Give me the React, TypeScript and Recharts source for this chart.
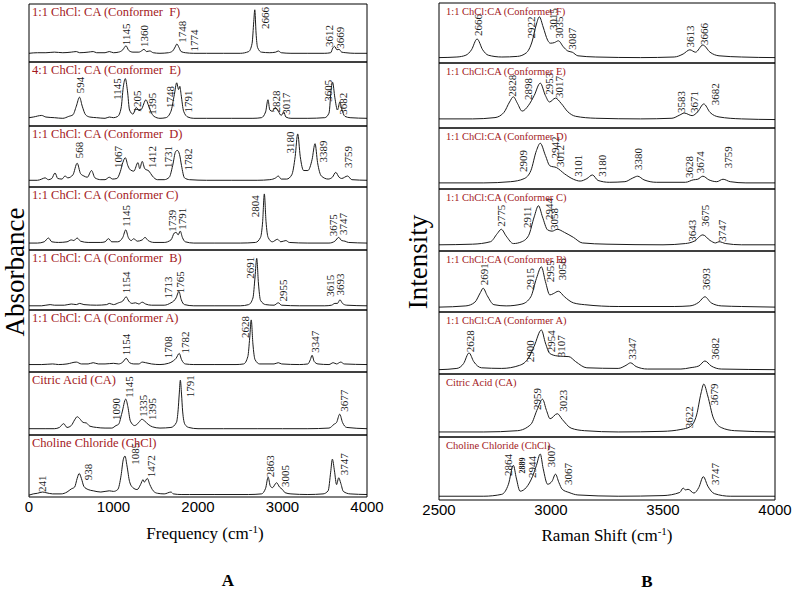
import React from "react";
import { LineChart, Line, XAxis, YAxis, ReferenceDot } from "recharts";

type Pt = [number, number];
type Peak = [string, number, number];

// ---------- Panel A : IR (Frequency) ----------
const A_TITLES = [
  "1:1 ChCl: CA (Conformer  F)",
  "4:1 ChCl: CA (Conformer  E)",
  "1:1 ChCl: CA (Conformer  D)",
  "1:1 ChCl: CA (Conformer C)",
  "1:1 ChCl: CA (Conformer  B)",
  "1:1 ChCl: CA (Conformer A)",
  "Citric Acid (CA)",
  "Choline Chloride (ChCl)",
];

const A_F: Pt[] = [[0,0.15],[100,0.16],[200,0.16],[300,0.17],[400,0.16],[500,0.17],[560,0.18],[600,0.16],[700,0.17],[760,0.18],[800,0.16],[900,0.16],[950,0.18],[1000,0.16],[1060,0.17],[1110,0.21],[1148,0.28],[1180,0.2],[1230,0.17],[1300,0.17],[1340,0.2],[1361,0.22],[1390,0.18],[1430,0.19],[1470,0.16],[1550,0.15],[1650,0.16],[1700,0.19],[1730,0.26],[1750,0.31],[1775,0.25],[1800,0.18],[1850,0.16],[1950,0.15],[2100,0.15],[2300,0.15],[2500,0.15],[2600,0.18],[2640,0.32],[2660,0.7],[2672,0.9],[2687,0.5],[2705,0.25],[2750,0.17],[2850,0.16],[2920,0.17],[2950,0.19],[2985,0.16],[3100,0.15],[3300,0.15],[3500,0.15],[3570,0.16],[3595,0.24],[3615,0.27],[3645,0.21],[3669,0.22],[3700,0.17],[3750,0.16],[3850,0.15],[4000,0.15]];
const A_E: Pt[] = [[0,0.13],[50,0.14],[150,0.165],[200,0.14],[300,0.13],[400,0.12],[470,0.15],[520,0.175],[560,0.31],[598,0.45],[630,0.31],[670,0.175],[720,0.14],[800,0.13],[900,0.12],[950,0.14],[1000,0.13],[1050,0.15],[1090,0.28],[1115,0.6],[1140,0.74],[1165,0.55],[1190,0.25],[1230,0.186],[1270,0.29],[1300,0.24],[1330,0.26],[1385,0.41],[1410,0.335],[1440,0.23],[1480,0.15],[1550,0.12],[1620,0.13],[1680,0.23],[1720,0.49],[1748,0.675],[1770,0.57],[1785,0.62],[1800,0.49],[1830,0.23],[1880,0.14],[1950,0.12],[2100,0.12],[2400,0.12],[2650,0.12],[2750,0.13],[2800,0.22],[2828,0.41],[2850,0.25],[2880,0.23],[2915,0.29],[2950,0.23],[2985,0.165],[3015,0.22],[3040,0.14],[3100,0.12],[3300,0.12],[3500,0.13],[3550,0.2],[3578,0.6],[3592,0.685],[3620,0.44],[3650,0.25],[3680,0.377],[3700,0.27],[3740,0.15],[3800,0.13],[4000,0.12]];
const A_D: Pt[] = [[0,0.11],[100,0.11],[150,0.13],[190,0.15],[230,0.12],[270,0.14],[308,0.23],[340,0.14],[390,0.13],[426,0.18],[460,0.15],[520,0.2],[570,0.39],[610,0.22],[650,0.18],[690,0.16],[740,0.27],[780,0.15],[850,0.12],[900,0.12],[950,0.16],[990,0.13],[1040,0.14],[1080,0.25],[1110,0.4],[1140,0.48],[1170,0.35],[1200,0.28],[1240,0.26],[1290,0.4],[1310,0.3],[1340,0.42],[1370,0.3],[1420,0.26],[1460,0.18],[1520,0.12],[1600,0.12],[1660,0.16],[1700,0.35],[1735,0.58],[1755,0.6],[1782,0.53],[1805,0.35],[1840,0.15],[1900,0.12],[2100,0.11],[2400,0.11],[2700,0.11],[2850,0.12],[2920,0.15],[2950,0.18],[2985,0.13],[3050,0.13],[3110,0.2],[3150,0.5],[3180,0.87],[3210,0.5],[3250,0.27],[3300,0.27],[3350,0.45],[3385,0.71],[3415,0.4],[3460,0.18],[3540,0.13],[3590,0.16],[3630,0.24],[3670,0.16],[3700,0.14],[3770,0.18],[3820,0.12],[4000,0.11]];
const A_C: Pt[] = [[0,0.11],[100,0.11],[180,0.13],[230,0.19],[270,0.13],[350,0.12],[450,0.13],[500,0.16],[530,0.15],[570,0.19],[610,0.14],[700,0.12],[850,0.12],[900,0.13],[940,0.18],[980,0.13],[1050,0.13],[1110,0.2],[1145,0.32],[1175,0.2],[1210,0.15],[1240,0.18],[1280,0.14],[1340,0.16],[1373,0.2],[1410,0.15],[1480,0.12],[1600,0.12],[1680,0.16],[1720,0.27],[1742,0.28],[1765,0.24],[1790,0.3],[1815,0.2],[1850,0.13],[1950,0.11],[2200,0.11],[2500,0.11],[2680,0.12],[2740,0.2],[2765,0.45],[2785,0.89],[2805,0.45],[2830,0.2],[2880,0.13],[2940,0.17],[2980,0.13],[3040,0.15],[3080,0.12],[3300,0.11],[3550,0.11],[3620,0.14],[3665,0.2],[3700,0.15],[3740,0.14],[3780,0.12],[4000,0.11]];
const A_B: Pt[] = [[0,0.07],[150,0.07],[250,0.09],[300,0.08],[420,0.08],[500,0.1],[560,0.09],[600,0.11],[650,0.09],[800,0.08],[920,0.09],[950,0.11],[1000,0.09],[1060,0.12],[1110,0.15],[1150,0.22],[1180,0.15],[1220,0.11],[1260,0.12],[1300,0.1],[1340,0.13],[1380,0.1],[1450,0.08],[1600,0.08],[1680,0.12],[1713,0.15],[1740,0.2],[1775,0.31],[1800,0.18],[1840,0.09],[1950,0.07],[2200,0.07],[2500,0.07],[2600,0.09],[2650,0.2],[2675,0.55],[2695,0.86],[2715,0.45],[2740,0.16],[2800,0.09],[2900,0.08],[2950,0.12],[2990,0.08],[3200,0.07],[3500,0.07],[3580,0.08],[3620,0.11],[3650,0.11],[3680,0.17],[3710,0.11],[3760,0.08],[4000,0.07]];
const A_A: Pt[] = [[0,0.12],[150,0.12],[280,0.13],[350,0.12],[450,0.13],[560,0.16],[620,0.13],[700,0.13],[760,0.15],[820,0.13],[900,0.13],[1000,0.14],[1060,0.13],[1110,0.16],[1150,0.22],[1190,0.15],[1240,0.13],[1300,0.13],[1340,0.16],[1380,0.15],[1450,0.13],[1550,0.12],[1650,0.14],[1708,0.18],[1740,0.22],[1778,0.3],[1805,0.2],[1850,0.13],[1950,0.12],[2200,0.12],[2450,0.12],[2540,0.13],[2590,0.25],[2612,0.55],[2630,0.84],[2650,0.45],[2675,0.2],[2730,0.13],[2900,0.13],[2950,0.15],[2990,0.13],[3200,0.12],[3300,0.13],[3330,0.2],[3350,0.27],[3375,0.17],[3420,0.13],[3550,0.12],[3600,0.15],[3640,0.13],[3690,0.16],[3730,0.13],[4000,0.12]];
const A_CA: Pt[] = [[0,0.1],[200,0.1],[300,0.1],[360,0.12],[410,0.18],[450,0.12],[500,0.15],[540,0.24],[570,0.29],[600,0.26],[640,0.2],[680,0.19],[720,0.14],[800,0.12],[900,0.11],[980,0.11],[1030,0.15],[1060,0.17],[1100,0.35],[1145,0.57],[1170,0.45],[1200,0.22],[1250,0.15],[1300,0.2],[1335,0.25],[1370,0.22],[1410,0.17],[1460,0.13],[1550,0.11],[1680,0.12],[1745,0.2],[1765,0.4],[1778,0.65],[1791,0.87],[1805,0.65],[1818,0.38],[1845,0.17],[1890,0.12],[2000,0.1],[2300,0.1],[2700,0.1],[3000,0.1],[3300,0.1],[3550,0.11],[3610,0.17],[3640,0.2],[3677,0.33],[3710,0.2],[3760,0.12],[4000,0.1]];
const A_CHCL: Pt[] = [[0,0.03],[50,0.05],[100,0.06],[160,0.08],[200,0.07],[280,0.05],[380,0.05],[450,0.08],[500,0.13],[540,0.16],[570,0.3],[594,0.38],[620,0.3],[650,0.17],[700,0.12],[760,0.1],[850,0.08],[950,0.1],[1000,0.09],[1050,0.12],[1090,0.35],[1115,0.6],[1136,0.66],[1160,0.5],[1190,0.25],[1230,0.15],[1280,0.12],[1320,0.2],[1350,0.28],[1365,0.24],[1400,0.3],[1430,0.2],[1470,0.1],[1520,0.06],[1600,0.05],[1680,0.08],[1710,0.05],[1800,0.04],[1900,0.04],[2200,0.04],[2600,0.04],[2750,0.05],[2800,0.14],[2830,0.32],[2855,0.18],[2880,0.15],[2930,0.23],[2965,0.16],[3000,0.12],[3030,0.07],[3100,0.05],[3300,0.04],[3480,0.05],[3540,0.1],[3570,0.4],[3590,0.61],[3615,0.42],[3640,0.2],[3665,0.31],[3690,0.22],[3720,0.09],[3800,0.05],[4000,0.04]];

const A_F_PEAKS: Peak[] = [["1145",1148,0.29],["1360",1361,0.26],["1748",1807,0.33],["1774",1953,0.18],["2666",2793,0.57],["3612",3552,0.26],["3669",3680,0.23]];
const A_E_PEAKS: Peak[] = [["594",604,0.51],["1145",1040,0.41],["1205",1275,0.21],["1395",1463,0.175],["1748",1668,0.28],["1791",1886,0.21],["2828",2930,0.21],["3017",3048,0.175],["3605",3545,0.38],["3682",3718,0.175]];
const A_D_PEAKS: Peak[] = [["568",592,0.47],["1067",1056,0.31],["1412",1452,0.31],["1731",1650,0.31],["1782",1886,0.27],["3180",3089,0.55],["3389",3482,0.4],["3759",3778,0.31]];
const A_C_PEAKS: Peak[] = [["1145",1148,0.37],["1739",1690,0.29],["1791",1808,0.32],["2804",2675,0.52],["3675",3600,0.22],["3747",3718,0.24]];
const A_B_PEAKS: Peak[] = [["1154",1148,0.28],["1713",1650,0.19],["1765",1787,0.28],["2691",2615,0.52],["2955",3006,0.14],["3615",3562,0.22],["3693",3680,0.24]];
const A_A_PEAKS: Peak[] = [["1154",1148,0.27],["1708",1650,0.22],["1782",1846,0.3],["2628",2556,0.55],["3347",3385,0.31]];
const A_CA_PEAKS: Peak[] = [["1090",1030,0.24],["1145",1187,0.59],["1335",1346,0.29],["1395",1463,0.24],["1791",1913,0.6],["3677",3733,0.37]];
const A_CHCL_PEAKS: Peak[] = [["241",160,0.08],["938",702,0.27],["1085",1254,0.52],["1472",1440,0.32],["2863",2852,0.32],["3005",3030,0.16],["3747",3733,0.35]];

// ---------- Panel B : Raman ----------
const B_TITLES = [
  "1:1 ChCl:CA (Conformer F)",
  "1:1 ChCl:CA (Conformer E)",
  "1:1 ChCl:CA (Conformer D)",
  "1:1 ChCl:CA (Conformer C)",
  "1:1 ChCl:CA (Conformer B)",
  "1:1 ChCl:CA (Conformer A)",
  "Citric Acid (CA)",
  "Choline Chloride (ChCl)",
];

const B_F: Pt[] = [[2500,0.09],[2580,0.1],[2620,0.13],[2645,0.22],[2670,0.4],[2695,0.22],[2720,0.13],[2780,0.1],[2850,0.11],[2890,0.17],[2915,0.35],[2935,0.65],[2948,0.77],[2965,0.6],[2985,0.38],[2997,0.33],[3015,0.34],[3033,0.37],[3055,0.27],[3075,0.2],[3095,0.18],[3120,0.12],[3200,0.1],[3400,0.09],[3550,0.1],[3590,0.15],[3620,0.22],[3645,0.18],[3678,0.3],[3710,0.18],[3750,0.12],[3850,0.1],[4000,0.09]];
const B_E: Pt[] = [[2500,0.14],[2650,0.14],[2750,0.16],[2790,0.24],[2815,0.4],[2832,0.48],[2850,0.38],[2871,0.26],[2900,0.35],[2925,0.5],[2952,0.69],[2975,0.5],[2993,0.4],[3020,0.46],[3045,0.38],[3075,0.25],[3110,0.18],[3200,0.15],[3400,0.14],[3540,0.15],[3575,0.2],[3595,0.23],[3630,0.19],[3655,0.25],[3682,0.37],[3710,0.24],[3750,0.17],[3850,0.14],[4000,0.13]];
const B_D: Pt[] = [[2500,0.1],[2700,0.1],[2820,0.12],[2880,0.17],[2910,0.3],[2935,0.63],[2952,0.75],[2975,0.55],[2995,0.38],[3025,0.35],[3060,0.25],[3100,0.16],[3130,0.13],[3160,0.17],[3185,0.23],[3210,0.14],[3260,0.11],[3330,0.12],[3365,0.18],[3387,0.21],[3415,0.15],[3470,0.11],[3600,0.11],[3635,0.15],[3655,0.16],[3678,0.21],[3705,0.15],[3740,0.12],[3768,0.16],[3800,0.12],[3870,0.1],[4000,0.1]];
const B_C: Pt[] = [[2500,0.1],[2650,0.11],[2730,0.15],[2760,0.28],[2778,0.35],[2800,0.24],[2832,0.12],[2870,0.15],[2900,0.25],[2925,0.55],[2944,0.73],[2962,0.55],[2985,0.34],[3005,0.32],[3028,0.35],[3060,0.3],[3100,0.22],[3140,0.13],[3250,0.11],[3500,0.1],[3600,0.12],[3640,0.16],[3678,0.26],[3710,0.17],[3735,0.13],[3750,0.15],[3780,0.12],[3850,0.1],[4000,0.1]];
const B_B: Pt[] = [[2500,0.08],[2620,0.1],[2660,0.16],[2685,0.32],[2697,0.39],[2715,0.27],[2745,0.12],[2800,0.1],[2870,0.13],[2910,0.25],[2935,0.55],[2957,0.74],[2975,0.5],[2995,0.28],[3010,0.3],[3033,0.34],[3060,0.25],[3100,0.15],[3150,0.12],[3300,0.09],[3550,0.09],[3620,0.1],[3660,0.16],[3687,0.25],[3715,0.15],[3760,0.1],[3850,0.09],[4000,0.08]];
const B_A: Pt[] = [[2500,0.07],[2580,0.09],[2610,0.17],[2634,0.34],[2655,0.2],[2690,0.1],[2780,0.09],[2860,0.14],[2900,0.26],[2925,0.45],[2957,0.71],[2975,0.5],[2995,0.33],[3030,0.29],[3080,0.28],[3110,0.2],[3160,0.1],[3300,0.09],[3335,0.14],[3355,0.18],[3380,0.12],[3430,0.08],[3580,0.08],[3620,0.1],[3660,0.13],[3687,0.21],[3715,0.13],[3760,0.08],[4000,0.07]];
const B_CA: Pt[] = [[2500,0.08],[2700,0.08],[2850,0.1],[2910,0.2],[2940,0.45],[2962,0.6],[2980,0.42],[2996,0.29],[3028,0.37],[3050,0.28],[3090,0.14],[3150,0.1],[3300,0.08],[3500,0.09],[3580,0.12],[3620,0.16],[3650,0.35],[3670,0.7],[3682,0.84],[3700,0.65],[3725,0.3],[3760,0.15],[3820,0.1],[4000,0.08]];
const B_CHCL: Pt[] = [[2500,0.06],[2700,0.06],[2780,0.09],[2810,0.25],[2832,0.55],[2845,0.35],[2862,0.14],[2890,0.2],[2917,0.37],[2935,0.55],[2952,0.73],[2965,0.5],[2985,0.25],[3005,0.3],[3020,0.41],[3035,0.28],[3050,0.17],[3080,0.12],[3120,0.08],[3300,0.06],[3500,0.07],[3575,0.12],[3590,0.19],[3600,0.16],[3612,0.17],[3638,0.11],[3660,0.2],[3680,0.37],[3700,0.22],[3730,0.1],[3800,0.06],[4000,0.06]];

const B_F_PEAKS: Peak[] = [["2666",2673,0.45],["2922",2912,0.41],["3015",3011,0.55],["3035",3037,0.41],["3087",3095,0.22],["3613",3620,0.26],["3666",3682,0.3]];
const B_E_PEAKS: Peak[] = [["2828",2826,0.48],["2898",2898,0.43],["2953",2992,0.51],["3017",3037,0.46],["3583",3580,0.23],["3671",3638,0.23],["3682",3731,0.35]];
const B_D_PEAKS: Peak[] = [["2909",2876,0.28],["2942",3020,0.5],["3012",3042,0.36],["3101",3122,0.2],["3180",3230,0.2],["3380",3391,0.31],["3628",3615,0.18],["3674",3664,0.26],["3759",3789,0.34]];
const B_C_PEAKS: Peak[] = [["2775",2778,0.39],["2911",2894,0.37],["2944",2992,0.5],["3058",3015,0.34],["3643",3628,0.15],["3675",3687,0.39],["3747",3763,0.15]];
const B_B_PEAKS: Peak[] = [["2691",2700,0.44],["2915",2907,0.36],["2955",2997,0.49],["3056",3051,0.52],["3693",3691,0.36]];
const B_A_PEAKS: Peak[] = [["2628",2639,0.35],["2900",2907,0.19],["2954",3001,0.35],["3107",3046,0.27],["3347",3364,0.23],["3682",3731,0.23]];
const B_CA_PEAKS: Peak[] = [["2959",2939,0.43],["3023",3055,0.4],["3622",3615,0.14],["3679",3727,0.5]];
const B_CHCL_PEAKS: Peak[] = [["2864",2809,0.38],["2889",2871,0.42],["2944",2916,0.35],["3007",3001,0.52],["3067",3077,0.24],["3747",3731,0.24]];

const A_SPECTRA = [A_F, A_E, A_D, A_C, A_B, A_A, A_CA, A_CHCL];
const A_PEAKS = [A_F_PEAKS, A_E_PEAKS, A_D_PEAKS, A_C_PEAKS, A_B_PEAKS, A_A_PEAKS, A_CA_PEAKS, A_CHCL_PEAKS];
const B_SPECTRA = [B_F, B_E, B_D, B_C, B_B, B_A, B_CA, B_CHCL];
const B_PEAKS = [B_F_PEAKS, B_E_PEAKS, B_D_PEAKS, B_C_PEAKS, B_B_PEAKS, B_A_PEAKS, B_CA_PEAKS, B_CHCL_PEAKS];

const A_TICKS = [0, 500, 1000, 1500, 2000, 2500, 3000, 3500, 4000];
const A_LABEL_TICKS = [0, 1000, 2000, 3000, 4000];
const B_TICKS = [2500, 2750, 3000, 3250, 3500, 3750, 4000];
const B_LABEL_TICKS = [2500, 3000, 3500, 4000];
const Y_TICKS = [0, 0.25, 0.5, 0.75, 1];

// layout
const A_BOX = { left: 29, right: 367, rows: [4, 62, 126, 187, 250, 310, 372, 435, 497] };
const B_BOX = { left: 439, right: 775, rows: [3, 63, 128, 189, 251, 312, 374, 437, 500] };
const MY = 6;
const MX = 24;
const RED = "#a3191c";
const SERIF = "'Liberation Serif', 'Times New Roman', serif";
const SANS = "'Liberation Sans', Arial, sans-serif";

const peakShape = (text: string) => (p: any) => {
  const small = text === "2889";
  return (
    <text
      x={p.cx}
      y={p.cy}
      dy="0.35em"
      transform={`rotate(-90 ${p.cx} ${p.cy})`}
      fontSize={small ? 8 : 11}
      fontWeight={small ? "bold" : "normal"}
      fontFamily={SERIF}
      fill="#1a1a1a"
    >
      {text}
    </text>
  );
};

type SubProps = {
  box: typeof A_BOX;
  idx: number;
  data: Pt[];
  peaks: Peak[];
  domain: [number, number];
  ticks: number[];
  labelTicks: number[];
};

const SubPlot: React.FC<SubProps> = ({ box, idx, data, peaks, domain, ticks, labelTicks }) => {
  const top = box.rows[idx];
  const h = box.rows[idx + 1] - top;
  const w = box.right - box.left;
  const last = idx === box.rows.length - 2;
  const extra = last ? 26 : 0;
  const rows = data.map(([x, y]) => ({ x, y }));
  return (
    <div style={{ position: "absolute", left: box.left - MX, top: top - MY }}>
      <LineChart
        width={w + 2 * MX}
        height={h + 2 * MY + extra}
        data={rows}
        margin={{ top: MY, right: MX, bottom: MY, left: MX }}
      >
        <XAxis
          xAxisId="b"
          dataKey="x"
          type="number"
          domain={domain}
          ticks={ticks}
          orientation="bottom"
          mirror
          tick={false}
          tickSize={5}
          stroke="#000"
        />
        {last && (
          <XAxis
            xAxisId="lab"
            dataKey="x"
            type="number"
            domain={domain}
            ticks={labelTicks}
            orientation="bottom"
            height={26}
            axisLine={false}
            tickLine={false}
            tickSize={4}
            tickMargin={0}
            tick={{ fontSize: 15, fill: "#000", fontFamily: SANS }}
          />
        )}
        <XAxis xAxisId="t" type="number" domain={domain} orientation="top" mirror tick={false} tickLine={false} stroke="#000" />
        <YAxis yAxisId="l" type="number" domain={[0, 1]} ticks={Y_TICKS} mirror tick={false} tickSize={5} stroke="#000" />
        <YAxis yAxisId="r" orientation="right" type="number" domain={[0, 1]} ticks={Y_TICKS} mirror tick={false} tickSize={5} stroke="#000" />
        <Line
          xAxisId="b"
          yAxisId="l"
          dataKey="y"
          type="monotone"
          stroke="#1a1a1a"
          strokeWidth={1}
          dot={false}
          isAnimationActive={false}
        />
        {peaks.map(([t, x, y], i) => (
          <ReferenceDot key={i} xAxisId="b" yAxisId="l" x={x} y={y} r={0} shape={peakShape(t)} />
        ))}
      </LineChart>
    </div>
  );
};

export default function App() {
  return (
    <div style={{ position: "absolute", left: 0, top: 0, width: 792, height: 593, background: "#fff", overflow: "hidden" }}>
      {A_SPECTRA.map((d, i) => (
        <SubPlot key={`a${i}`} box={A_BOX} idx={i} data={d} peaks={A_PEAKS[i]} domain={[0, 4000]} ticks={A_TICKS} labelTicks={A_LABEL_TICKS} />
      ))}
      {B_SPECTRA.map((d, i) => (
        <SubPlot key={`b${i}`} box={B_BOX} idx={i} data={d} peaks={B_PEAKS[i]} domain={[2500, 4000]} ticks={B_TICKS} labelTicks={B_LABEL_TICKS} />
      ))}
      <svg width={792} height={593} style={{ position: "absolute", left: 0, top: 0, pointerEvents: "none" }}>
        {A_TITLES.map((t, i) => (
          <text key={`at${i}`} x={A_BOX.left + 3} y={A_BOX.rows[i] + 12} fontSize={12.5} fontFamily={SERIF} fill={RED} style={{ whiteSpace: "pre" }}>
            {t}
          </text>
        ))}
        {B_TITLES.map((t, i) => (
          <text key={`bt${i}`} x={B_BOX.left + 7} y={B_BOX.rows[i] + 12} fontSize={10.5} fontFamily={SERIF} fill={RED}>
            {t}
          </text>
        ))}
        <text x={15} y={272} transform="rotate(-90 15 272)" dy="0.35em" textAnchor="middle" fontSize={27} fontFamily={SERIF} fill="#000">
          Absorbance
        </text>
        <text x={418} y={262} transform="rotate(-90 418 262)" dy="0.35em" textAnchor="middle" fontSize={27} fontFamily={SERIF} fill="#000">
          Intensity
        </text>
        <text x={205} y={539} textAnchor="middle" fontSize={17} fontFamily={SERIF} fill="#000">
          Frequency (cm<tspan dy={-6} fontSize={11}>-1</tspan><tspan dy={6}>)</tspan>
        </text>
        <text x={607} y={541} textAnchor="middle" fontSize={17} fontFamily={SERIF} fill="#000">
          Raman Shift (cm<tspan dy={-6} fontSize={11}>-1</tspan><tspan dy={6}>)</tspan>
        </text>
        <text x={228} y={586} textAnchor="middle" fontSize={17} fontWeight="bold" fontFamily={SERIF} fill="#000">A</text>
        <text x={647} y={587} textAnchor="middle" fontSize={17} fontWeight="bold" fontFamily={SERIF} fill="#000">B</text>
      </svg>
    </div>
  );
}
